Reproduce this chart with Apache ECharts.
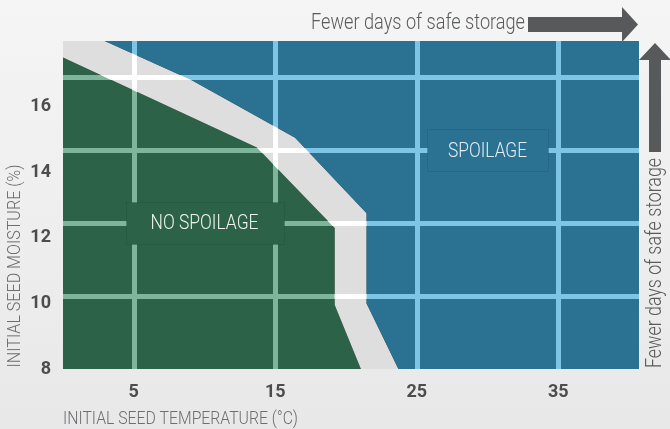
<!DOCTYPE html>
<html>
<head>
<meta charset="utf-8">
<title>Seed storage</title>
<script src="https://cdn.jsdelivr.net/npm/echarts@6/dist/echarts.min.js"></script>
<style>
    html, body { margin: 0; padding: 0; }
    body { background: linear-gradient(#f5f5f5, #e8e8e8); }
    #main { width: 670px; height: 429px; }
</style>
</head>
<body>
<div id="main"></div>
<script>
    // temperature (°C) along x, moisture (%) along y
    var tempMax = 40.7;
    var tempLabels = [5, 15, 25, 35];
    var moistureMin = 8, moistureMax = 18;
    var rowCount = 4.5;   // the light grid rows do not follow the moisture ticks

    // edge of the no-spoilage zone
    var safeEdge = [[0, 17.5], [13.7, 14.75], [19.2, 12.3], [19.2, 9.95], [21.05, 8]];
    // edge where spoilage starts
    var spoilEdge = [[2.95, 18], [9.1, 16.8], [16.4, 15.05], [21.45, 12.75], [21.45, 10], [23.7, 8]];

    var zoneNames = ['NO SPOILAGE', 'SPOILAGE'];
    var zoneLabelAt = [[10, 2], [30, 3]];   // x in °C, y in grid rows

    var FONT = "Roboto, 'Liberation Sans', sans-serif";

    // green, grey band, blue
    var zones = [
        [[0, moistureMin]].concat(safeEdge),
        [[0, moistureMax]].concat(spoilEdge, safeEdge.slice().reverse()),
        spoilEdge.concat([[tempMax, moistureMin], [tempMax, moistureMax]])
    ];
    // drawn over a black plot so the white grid lines show through lighter
    var zoneFills = ['rgba(65,145,107,0.675)', 'rgba(255,255,255,0.871)', 'rgba(64,167,216,0.675)'];
    var boxColors = ['#2c6248', '#2b7192'];
    var boxText = ['#eef3ef', '#e1edf3'];
    var boxSize = [[158, 42], [121, 42]];
    var boxTextWidth = [108, 79];

    // the reference uses a condensed face, so squeeze Roboto to the same width
    var measureCtx = document.createElement('canvas').getContext('2d');
    function squeeze(text, size, weight, width) {
        measureCtx.font = weight + ' ' + size + 'px ' + FONT;
        return width / measureCtx.measureText(text).width;
    }
    function label(text, x, y, size, width, align, color, rot) {
        return {
            type: 'text', x: x, y: y, rotation: rot || 0,
            scaleX: squeeze(text, size, 300, width),
            silent: true, z: 10,
            style: {
                text: text, fill: color, fontFamily: FONT, fontSize: size, fontWeight: 300,
                textAlign: align, textVerticalAlign: 'middle'
            }
        };
    }

    var chart = echarts.init(document.getElementById('main'));

    var option = {
        animation: false,
        grid: {left: 63, right: 31, top: 41, bottom: 60, show: true, backgroundColor: '#000', borderWidth: 0},
        xAxis: {
            type: 'value', min: 0, max: tempMax, interval: 5,
            axisLine: {show: false}, axisTick: {show: false},
            axisLabel: {
                formatter: function (v) { return tempLabels.indexOf(v) >= 0 ? String(v) : ''; },
                color: '#4d4d4f', fontFamily: FONT, fontSize: 18, fontWeight: 'bold', margin: 14
            },
            splitLine: {
                show: true, showMinLine: false, showMaxLine: false,
                lineStyle: {color: ['#fff', 'rgba(0,0,0,0)'], width: 5}
            }
        },
        yAxis: [
            {
                type: 'value', min: moistureMin, max: moistureMax, interval: 2,
                axisLine: {show: false}, axisTick: {show: false}, splitLine: {show: false},
                axisLabel: {color: '#4d4d4f', fontFamily: FONT, fontSize: 18, fontWeight: 'bold', margin: 12, showMaxLabel: false}
            },
            {
                type: 'value', min: 0, max: rowCount, interval: 1, position: 'left',
                axisLine: {show: false}, axisTick: {show: false}, axisLabel: {show: false},
                splitLine: {show: true, showMinLine: false, showMaxLine: false, lineStyle: {color: '#fff', width: 5}}
            }
        ],
        series: [
            {
                type: 'custom',
                silent: true,
                z: 2,
                data: zones.map(function (z) { return z[0]; }),
                renderItem: function (params, api) {
                    var pts = zones[params.dataIndex].map(function (p) { return api.coord(p); });
                    return {type: 'polygon', shape: {points: pts}, style: {fill: zoneFills[params.dataIndex]}};
                }
            }
        ]
    };

    chart.setOption(option);

    // zone name boxes sit on grid crossings, placed through the axes
    var graphics = [];
    zoneNames.forEach(function (n, i) {
        var c = chart.convertToPixel({xAxisIndex: 0, yAxisIndex: 1}, zoneLabelAt[i]);
        var w = boxSize[i][0], h = boxSize[i][1];
        graphics.push({
            type: 'rect', silent: true, z: 9,
            shape: {x: Math.round(c[0] - w / 2) + 0.5, y: Math.round(c[1] - h / 2) + 0.5, width: w, height: h},
            style: {fill: boxColors[i], stroke: 'rgba(0,0,0,0.08)', lineWidth: 1}
        });
        graphics.push(label(n, c[0], c[1] + 1, 21, boxTextWidth[i], 'center', boxText[i]));
    });

    graphics.push(
        label('INITIAL SEED TEMPERATURE (°C)', 63, 419, 18, 235, 'left', '#6d6e71'),
        label('INITIAL SEED MOISTURE (%)', 15, 266, 18, 203, 'center', '#6d6e71', Math.PI / 2),
        label('Fewer days of safe storage', 525, 23.5, 22, 214, 'right', '#5a5b5d'),
        label('Fewer days of safe storage', 655.5, 263, 22, 210, 'center', '#5a5b5d', Math.PI / 2),
        {
            type: 'polygon', silent: true,
            shape: {points: [[528, 17], [622, 17], [622, 7], [638, 24.5], [622, 42], [622, 32], [528, 32]]},
            style: {fill: '#58595b'}
        },
        {
            type: 'polygon', silent: true,
            shape: {points: [[649, 152], [649, 60], [639, 60], [655, 43], [671, 60], [661, 60], [661, 152]]},
            style: {fill: '#58595b'}
        }
    );

    chart.setOption({graphic: graphics});
</script>
</body>
</html>
